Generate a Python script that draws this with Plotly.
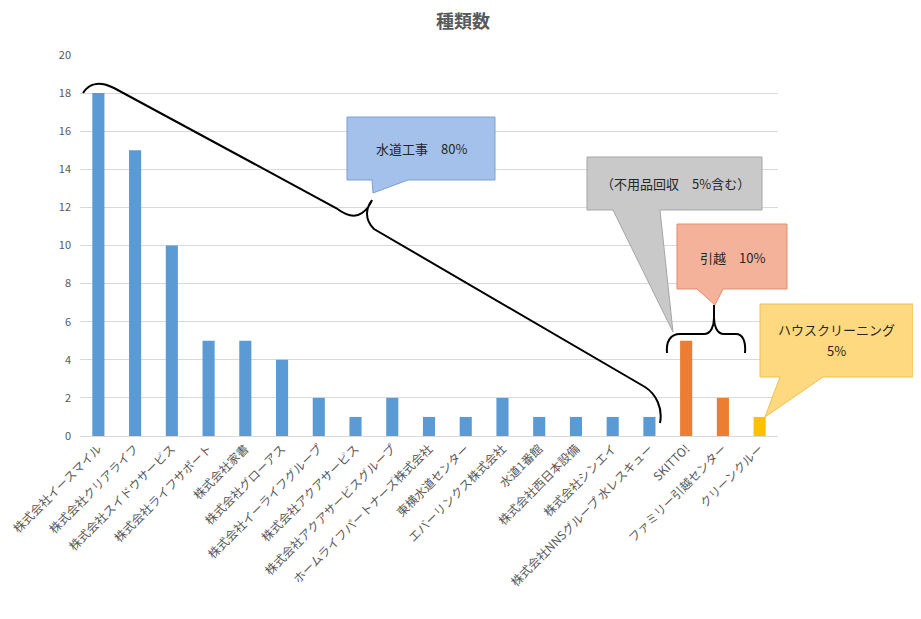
import plotly.graph_objects as go

categories = [
    "株式会社イースマイル", "株式会社クリアライフ", "株式会社スイドウサービス",
    "株式会社ライフサポート", "株式会社家書", "株式会社グローアス",
    "株式会社イーライフグループ", "株式会社アクアサービス", "株式会社アクアサービスグループ",
    "ホームライフパートナーズ株式会社", "東横水道センター", "エバーリンクス株式会社",
    "水道1番館", "株式会社西日本設備", "株式会社シンエイ",
    "株式会社NNSグループ 水レスキュー", "SKITTO!", "ファミリー引越センター", "クリーンクルー",
]
values = [18, 15, 10, 5, 5, 4, 2, 1, 2, 1, 1, 2, 1, 1, 1, 1, 5, 2, 1]
groups = ["水道"] * 16 + ["引越"] * 2 + ["清掃"]
group_colors = {"水道": "#5B9BD5", "引越": "#ED7D31", "清掃": "#FFC000"}
y_ticks = list(range(0, 21, 2))

OFF = 8  # page offset of the figure inside the browser window
W, H = 921 - OFF, 619 - OFF
L, R, T, B = 80 - OFF, 778 - OFF, 55 - OFF, 436 - OFF  # plot area in figure pixels


def px(x, y):
    """page pixel (reference coordinates) -> paper coordinates"""
    x -= OFF
    y -= OFF
    return (x - L) / (R - L), (B - y) / (B - T)


def path(cmds):
    out = []
    for c in cmds:
        if isinstance(c, str):
            out.append(c)
        else:
            xx, yy = px(*c)
            out.append(f"{xx:.5f},{yy:.5f}")
    return " ".join(out)


fig = go.Figure()
fig.add_trace(go.Bar(
    x=categories, y=values,
    marker=dict(color=[group_colors[g] for g in groups], line=dict(width=0)),
    width=0.33, showlegend=False,
))

shapes = []

# large brace
brace1 = path(["M", (83, 93), "C", (89, 83), (100, 81), (114, 88),
               "L", (336, 208), "C", (344, 214), (354, 219), (362, 213),
               "Q", (369, 208), (372, 200),
               "M", (372, 200), "C", (366, 208), (364, 219), (374, 229),
               "L", (645, 387), "C", (656, 394), (663, 408), (660, 423)])
shapes.append(dict(type="path", xref="paper", yref="paper", path=brace1,
                   line=dict(color="black", width=2)))

# small brace
brace2 = path(["M", (667, 353), "C", (666, 342), (670, 334), (680, 334),
               "L", (704, 334), "C", (711, 334), (714, 326), (714, 318),
               "L", (714, 305),
               "M", (714, 318), "C", (714, 326), (717, 334), (724, 334),
               "L", (736, 334), "C", (743, 334), (746, 342), (745, 353)])
shapes.append(dict(type="path", xref="paper", yref="paper", path=brace2,
                   line=dict(color="black", width=2)))


def callout(x0, y0, x1, y1, b0, b1, tip, fill, line):
    p = path(["M", (x0, y0), "L", (x1, y0), "L", (x1, y1), "L", (b1, y1),
              "L", tip, "L", (b0, y1), "L", (x0, y1), "Z"])
    return dict(type="path", xref="paper", yref="paper", path=p,
                fillcolor=fill, line=dict(color=line, width=1))


shapes.append(callout(347, 117, 495, 180, 372, 408, (373, 193), "#A3C1EA", "#7F9FCF"))
shapes.append(callout(587, 157, 762, 210, 613, 660, (673, 332), "#C9C9C9", "#A5A5A5"))
shapes.append(callout(677, 224, 787, 289, 697, 723, (715, 305), "#F5B29A", "#E58B6B"))
shapes.append(callout(760, 304, 913, 377, 780, 823, (765, 417), "#FFD97F", "#EFC050"))

annotations = []


def label(x, y, text, size=13):
    xx, yy = px(x, y)
    annotations.append(dict(x=xx, y=yy, xref="paper", yref="paper", text=text,
                            showarrow=False, xanchor="center", yanchor="middle",
                            font=dict(size=size, color="#262626",
                                      family="Noto Sans CJK JP")))


label(421, 148, "水道工事　80%")
label(675, 183, "（不用品回収　5%含む）")
label(732, 257, "引越　10%")
label(836, 329, "ハウスクリーニング")
label(836, 350, "5%")

fig.update_layout(
    width=W, height=H,
    margin=dict(l=L, r=W - R, t=T, b=H - B, pad=0),
    paper_bgcolor="white", plot_bgcolor="white",
    title=dict(text="<b>種類数</b>", x=(463 - OFF) / W, xanchor="center",
               y=1 - (22 - OFF) / H, yanchor="middle",
               font=dict(size=18, color="#595959", family="Noto Sans CJK JP")),
    font=dict(family="Noto Sans CJK JP", color="#595959"),
    xaxis=dict(tickangle=-45, tickfont=dict(size=12, color="#595959"),
               showgrid=False, showline=True, linecolor="#D9D9D9", linewidth=1,
               ticks="", automargin=False),
    yaxis=dict(range=[0, 20], tickvals=y_ticks, showgrid=True, gridcolor="#D9D9D9",
               gridwidth=1, zeroline=False, showline=False, ticks="",
               tickfont=dict(size=11, color="#595959"), ticklabelstandoff=8,
               automargin=False),
    shapes=shapes, annotations=annotations, bargap=0.67,
)

fig.write_html("out.html")
